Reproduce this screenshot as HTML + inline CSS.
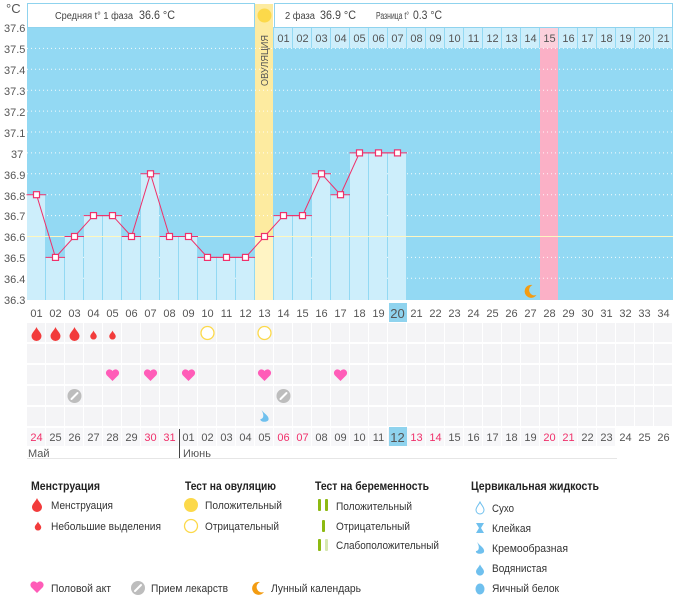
<!DOCTYPE html>
<html><head><meta charset="utf-8">
<style>
body{margin:0;background:#fff;width:682px;height:595px;overflow:hidden;font-family:"Liberation Sans",sans-serif}
svg{display:block}
text{font-family:"Liberation Sans","DejaVu Sans",sans-serif}
.ax{font-size:11px;fill:#555}
.d{font-size:11px;fill:#555;text-anchor:middle}
.r{fill:#f0306a}
.lh{font-size:12px;font-weight:bold;fill:#222}
.li{font-size:11px;fill:#333}
</style></head><body>
<svg id="s" width="682" height="595" xmlns="http://www.w3.org/2000/svg">
<g id="shapes"></g>
<!-- header -->
<rect x="27.5" y="3.5" width="227" height="24" fill="#fff" stroke="#8fd3ee"/>
<rect x="274.5" y="3.5" width="398" height="24" fill="#fff" stroke="#8fd3ee"/>
<text x="55" y="19" style="font-size:10px;fill:#444" textLength="78" lengthAdjust="spacingAndGlyphs">Средняя t° 1 фаза</text>
<text x="139" y="19" style="font-size:12px;fill:#444" textLength="36" lengthAdjust="spacingAndGlyphs">36.6 °C</text>
<circle cx="264.5" cy="15.5" r="7" fill="#fcd94a"/>
<text x="285" y="19" style="font-size:10px;fill:#444" textLength="30" lengthAdjust="spacingAndGlyphs">2 фаза</text>
<text x="320" y="19" style="font-size:12px;fill:#444" textLength="36" lengthAdjust="spacingAndGlyphs">36.9 °C</text>
<text x="376" y="19" style="font-size:10px;fill:#444" textLength="33" lengthAdjust="spacingAndGlyphs">Разница t°</text>
<text x="413" y="19" style="font-size:12px;fill:#444" textLength="29" lengthAdjust="spacingAndGlyphs">0.3 °C</text>
<text x="6" y="13" style="font-size:13px;fill:#555">°C</text>
<g class="ax">
<text x="4" y="32">37.6</text><text x="4" y="53">37.5</text><text x="4" y="74">37.4</text><text x="4" y="95">37.3</text><text x="4" y="116">37.2</text><text x="4" y="137">37.1</text><text x="11" y="158">37</text><text x="4" y="179">36.9</text><text x="4" y="200">36.8</text><text x="4" y="220">36.7</text><text x="4" y="241">36.6</text><text x="4" y="262">36.5</text><text x="4" y="283">36.4</text><text x="4" y="304">36.3</text>
</g>
<text transform="translate(268,86) rotate(-90)" style="font-size:10px;fill:#555" textLength="51" lengthAdjust="spacingAndGlyphs">ОВУЛЯЦИЯ</text>
<g class="d">
<text x="283.5" y="42">01</text><text x="302.5" y="42">02</text><text x="321.5" y="42">03</text><text x="340.5" y="42">04</text><text x="359.5" y="42">05</text><text x="378.5" y="42">06</text><text x="397.5" y="42">07</text><text x="416.5" y="42">08</text><text x="435.5" y="42">09</text><text x="454.5" y="42">10</text><text x="473.5" y="42">11</text><text x="492.5" y="42">12</text><text x="511.5" y="42">13</text><text x="530.5" y="42">14</text><text x="549.5" y="42">15</text><text x="568.5" y="42">16</text><text x="587.5" y="42">17</text><text x="606.5" y="42">18</text><text x="625.5" y="42">19</text><text x="644.5" y="42">20</text><text x="663.5" y="42">21</text>
</g>
<rect x="389" y="303" width="18" height="19" fill="#8fd3ee"/>
<g class="d">
<text x="36.5" y="317">01</text><text x="55.5" y="317">02</text><text x="74.5" y="317">03</text><text x="93.5" y="317">04</text><text x="112.5" y="317">05</text><text x="131.5" y="317">06</text><text x="150.5" y="317">07</text><text x="169.5" y="317">08</text><text x="188.5" y="317">09</text><text x="207.5" y="317">10</text><text x="226.5" y="317">11</text><text x="245.5" y="317">12</text><text x="264.5" y="317">13</text><text x="283.5" y="317">14</text><text x="302.5" y="317">15</text><text x="321.5" y="317">16</text><text x="340.5" y="317">17</text><text x="359.5" y="317">18</text><text x="378.5" y="317">19</text><text x="397.5" y="318" style="font-size:13px">20</text><text x="416.5" y="317">21</text><text x="435.5" y="317">22</text><text x="454.5" y="317">23</text><text x="473.5" y="317">24</text><text x="492.5" y="317">25</text><text x="511.5" y="317">26</text><text x="530.5" y="317">27</text><text x="549.5" y="317">28</text><text x="568.5" y="317">29</text><text x="587.5" y="317">30</text><text x="606.5" y="317">31</text><text x="625.5" y="317">32</text><text x="644.5" y="317">33</text><text x="663.5" y="317">34</text>
</g>
<g id="dr2"></g>
<g class="d">
<text x="36.5" y="441" class="r">24</text><text x="55.5" y="441">25</text><text x="74.5" y="441">26</text><text x="93.5" y="441">27</text><text x="112.5" y="441">28</text><text x="131.5" y="441">29</text><text x="150.5" y="441" class="r">30</text><text x="169.5" y="441" class="r">31</text><text x="188.5" y="441">01</text><text x="207.5" y="441">02</text><text x="226.5" y="441">03</text><text x="245.5" y="441">04</text><text x="264.5" y="441">05</text><text x="283.5" y="441" class="r">06</text><text x="302.5" y="441" class="r">07</text><text x="321.5" y="441">08</text><text x="340.5" y="441">09</text><text x="359.5" y="441">10</text><text x="378.5" y="441">11</text><text x="397.5" y="442" style="font-size:13px">12</text><text x="416.5" y="441" class="r">13</text><text x="435.5" y="441" class="r">14</text><text x="454.5" y="441">15</text><text x="473.5" y="441">16</text><text x="492.5" y="441">17</text><text x="511.5" y="441">18</text><text x="530.5" y="441">19</text><text x="549.5" y="441" class="r">20</text><text x="568.5" y="441" class="r">21</text><text x="587.5" y="441">22</text><text x="606.5" y="441">23</text><text x="625.5" y="441">24</text><text x="644.5" y="441">25</text><text x="663.5" y="441">26</text>
</g>
<line x1="179.5" y1="429" x2="179.5" y2="458" stroke="#444"/>
<text x="28" y="457" style="font-size:11px;fill:#555">Май</text>
<text x="183" y="457" style="font-size:11px;fill:#555">Июнь</text>
<line x1="27" y1="458.5" x2="617" y2="458.5" stroke="#e6e6e6"/>
<!-- legend -->
<text x="31" y="490" class="lh" textLength="69" lengthAdjust="spacingAndGlyphs">Менструация</text>
<text x="51" y="509" class="li" textLength="62" lengthAdjust="spacingAndGlyphs">Менструация</text>
<text x="51" y="530" class="li" textLength="110" lengthAdjust="spacingAndGlyphs">Небольшие выделения</text>
<text x="185" y="490" class="lh" textLength="91" lengthAdjust="spacingAndGlyphs">Тест на овуляцию</text>
<text x="205" y="509" class="li" textLength="77" lengthAdjust="spacingAndGlyphs">Положительный</text>
<text x="205" y="530" class="li" textLength="74" lengthAdjust="spacingAndGlyphs">Отрицательный</text>
<text x="315" y="490" class="lh" textLength="114" lengthAdjust="spacingAndGlyphs">Тест на беременность</text>
<text x="336" y="510" class="li" textLength="76" lengthAdjust="spacingAndGlyphs">Положительный</text>
<text x="336" y="530" class="li" textLength="74" lengthAdjust="spacingAndGlyphs">Отрицательный</text>
<text x="336" y="549" class="li" textLength="103" lengthAdjust="spacingAndGlyphs">Слабоположительный</text>
<text x="471" y="490" class="lh" textLength="128" lengthAdjust="spacingAndGlyphs">Цервикальная жидкость</text>
<text x="492" y="512" class="li" textLength="22" lengthAdjust="spacingAndGlyphs">Сухо</text>
<text x="492" y="532" class="li" textLength="39" lengthAdjust="spacingAndGlyphs">Клейкая</text>
<text x="492" y="552" class="li" textLength="76" lengthAdjust="spacingAndGlyphs">Кремообразная</text>
<text x="492" y="572" class="li" textLength="55" lengthAdjust="spacingAndGlyphs">Водянистая</text>
<text x="492" y="592" class="li" textLength="67" lengthAdjust="spacingAndGlyphs">Яичный белок</text>
<text x="51" y="592" class="li" textLength="60" lengthAdjust="spacingAndGlyphs">Половой акт</text>
<text x="151" y="592" class="li" textLength="77" lengthAdjust="spacingAndGlyphs">Прием лекарств</text>
<text x="271" y="592" class="li" textLength="90" lengthAdjust="spacingAndGlyphs">Лунный календарь</text>
</svg>
<script>
(function(){
var NS="http://www.w3.org/2000/svg",g=document.getElementById("shapes"),g2=document.getElementById("dr2");
function el(n,a,p){var e=document.createElementNS(NS,n);for(var k in a)e.setAttribute(k,a[k]);(p||g).appendChild(e);return e;}
function X(i){return 27+(i-1)*19;}function C(i){return 36.5+(i-1)*19;}
function Y(t){return 27.5+(37.6-t)*209;}
el("rect",{x:27,y:27,width:646,height:273,fill:"#93d9f3"});
for(var i=14;i<=34;i++){el("rect",{x:X(i),y:28,width:18,height:20,fill:i==28?"#fcd0dc":"#cdeefb"});}
el("rect",{x:X(28),y:48,width:18,height:252,fill:"#fbb0c6"});
el("rect",{x:X(13),y:4,width:18,height:296,fill:"#fdeba0"});
for(var k=1;k<=12;k++){var y=Y(37.6-k*0.1);el("line",{x1:27,y1:y,x2:673,y2:y,stroke:"#fff","stroke-dasharray":"1,3","stroke-opacity":0.9});}
var T=[36.8,36.5,36.6,36.7,36.7,36.6,36.9,36.6,36.6,36.5,36.5,36.5,36.6,36.7,36.7,36.9,36.8,37,37,37];
for(var i=1;i<=20;i++){var y=Y(T[i-1]);el("rect",{x:X(i),y:y,width:18,height:300-y,fill:i==13?"#fff4c4":"#cdeefb"});}
el("line",{x1:27,y1:Y(36.6),x2:673,y2:Y(36.6),stroke:"#fff7c0","stroke-width":1});
for(var i=1;i<=20;i++){var y=Y(T[i-1]);el("line",{x1:X(i)-0.5,y1:y,x2:X(i)+19,y2:y,stroke:"#f0306a","stroke-width":1});}
var pts=[];for(var i=1;i<=20;i++)pts.push(C(i)+","+Y(T[i-1]));
el("polyline",{points:pts.join(" "),fill:"none",stroke:"#f0306a","stroke-width":1});
for(var i=1;i<=20;i++){el("rect",{x:C(i)-3,y:Y(T[i-1])-3,width:6,height:6,fill:"#fff",stroke:"#f0306a","stroke-width":1.2});}
var rows=[323,344,365,386,407];
for(var r=0;r<5;r++)for(var i=1;i<=34;i++)el("rect",{x:X(i),y:rows[r],width:18,height:19,fill:"#f4f4f6"});
for(var i=1;i<=34;i++)el("rect",{x:X(i),y:428,width:18,height:18,fill:i>=32?"#fff":"#f7f7f9"},g2);
el("rect",{x:389,y:427,width:18,height:19,fill:"#8fd3ee"},g2);
function drop(cx,cy,s,col){el("path",{d:"M"+cx+","+(cy-7*s)+" C"+(cx+1*s)+","+(cy-4*s)+" "+(cx+5*s)+","+(cy-1*s)+" "+(cx+5*s)+","+(cy+2*s)+" A"+(5*s)+","+(5*s)+" 0 0 1 "+(cx-5*s)+","+(cy+2*s)+" C"+(cx-5*s)+","+(cy-1*s)+" "+(cx-1*s)+","+(cy-4*s)+" "+cx+","+(cy-7*s)+"Z",fill:col});}
drop(C(1),334,1,"#f23b3b");drop(C(2),334,1,"#f23b3b");drop(C(3),334,1,"#f23b3b");drop(C(4),335,0.65,"#f23b3b");drop(C(5),335,0.65,"#f23b3b");
function circ(cx,cy,fill){el("circle",{cx:cx,cy:cy,r:6.5,fill:fill,stroke:"#fcd94a","stroke-width":1.3});}
circ(C(10),333,"#fff");circ(C(13),333,"#fff");
function heart(cx,cy){el("path",{d:"M"+cx+","+(cy+6)+" L"+(cx-6)+","+(cy)+" A3.2,3.2 0 0 1 "+cx+","+(cy-4)+" A3.2,3.2 0 0 1 "+(cx+6)+","+cy+" Z",fill:"#ff5cb8"});}
[5,7,9,13,17].forEach(function(i){heart(C(i),375);});
function pill(cx,cy){el("circle",{cx:cx,cy:cy,r:7,fill:"#bdbdbd"});el("line",{x1:cx-3,y1:cy+3,x2:cx+3,y2:cy-3,stroke:"#fff","stroke-width":2,"stroke-linecap":"round"});}
pill(C(3),396);pill(C(14),396);
function cream(cx,cy){el("path",{d:"M"+(cx-3)+","+(cy-7)+" C"+(cx)+","+(cy-3)+" "+(cx+5)+","+(cy-1)+" "+(cx+4)+","+(cy+3)+" C"+(cx+2)+","+(cy+6)+" "+(cx-5)+","+(cy+5)+" "+(cx-4)+","+(cy+2)+" C"+(cx-1)+","+(cy+2)+" "+(cx)+","+(cy-2)+" "+(cx-3)+","+(cy-7)+"Z",fill:"#6fc0ee"});}
cream(C(13),417);
function moon(cx,cy){el("path",{d:"M"+(cx+2)+","+(cy-6)+" A6.5,6.5 0 1 0 "+(cx+6)+","+(cy+4)+" A5,5 0 0 1 "+(cx+2)+","+(cy-6)+"Z",fill:"#f39c12"});}
moon(C(27),291);
drop(37,505,1,"#f23b3b");drop(38,526,0.65,"#f23b3b");
el("circle",{cx:191,cy:505,r:7,fill:"#fcd94a"});el("circle",{cx:191,cy:526,r:6.5,fill:"#fff",stroke:"#fcd94a","stroke-width":1.3});
el("rect",{x:318,y:499,width:3,height:12,rx:1,fill:"#8dba12"});el("rect",{x:325,y:499,width:3,height:12,rx:1,fill:"#8dba12"});
el("rect",{x:322,y:520,width:3,height:12,rx:1,fill:"#8dba12"});
el("rect",{x:318,y:539,width:3,height:12,rx:1,fill:"#8dba12"});el("rect",{x:325,y:539,width:3,height:12,rx:1,fill:"#d6e8b0"});
el("path",{d:"M480,502 C482,506 484,507 484,510 A4,4 0 0 1 476,510 C476,507 478,506 480,502Z",fill:"none",stroke:"#6fc0ee","stroke-width":1});
el("path",{d:"M476,523 L484,523 L481,528 L484,533 L476,533 L479,528Z",fill:"#6fc0ee"});
cream(480,549);
drop(480,570,0.8,"#6fc0ee");
el("ellipse",{cx:480,cy:589,rx:4.5,ry:5.5,fill:"#6fc0ee"});
heart(37,587);pill(138,588);moon(258,588);
})();
</script>
</body></html>
